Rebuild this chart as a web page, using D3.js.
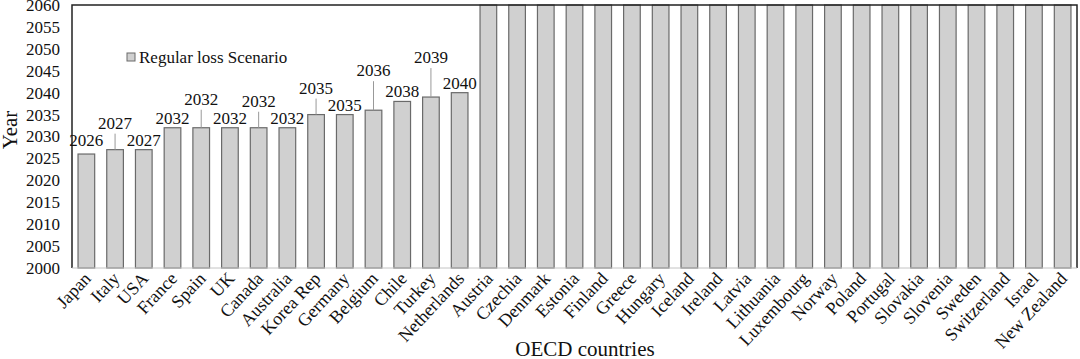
<!DOCTYPE html>
<html>
<head>
<meta charset="utf-8">
<script src="https://cdn.jsdelivr.net/npm/d3@7"></script>
<style>
  body { margin: 0; background: #fff; }
  text { font-family: "Liberation Serif", "Times New Roman", serif; fill: #111; }
</style>
</head>
<body>
<div id="chart"></div>
<script>
// countries and year the scenario is reached (2060 = beyond horizon)
let countries = ["Japan", "Italy", "USA", "France", "Spain", "UK", "Canada", "Australia",
  "Korea Rep", "Germany", "Belgium", "Chile", "Turkey", "Netherlands", "Austria", "Czechia",
  "Denmark", "Estonia", "Finland", "Greece", "Hungary", "Iceland", "Ireland", "Latvia",
  "Lithuania", "Luxembourg", "Norway", "Poland", "Portugal", "Slovakia", "Slovenia", "Sweden",
  "Switzerland", "Israel", "New Zealand"];
let years = [2026, 2027, 2027, 2032, 2032, 2032, 2032, 2032, 2035, 2035, 2036, 2038, 2039, 2040,
  2060, 2060, 2060, 2060, 2060, 2060, 2060, 2060, 2060, 2060, 2060, 2060, 2060, 2060, 2060,
  2060, 2060, 2060, 2060, 2060, 2060];
let yTicks = [2000, 2005, 2010, 2015, 2020, 2025, 2030, 2035, 2040, 2045, 2050, 2055, 2060];
let seriesName = "Regular loss Scenario";

let svgWidth = 1080;
let svgHeight = 359;
let margin = { top: 5, right: 3, bottom: 91, left: 72 };
let width = svgWidth - margin.left - margin.right;
let height = svgHeight - margin.top - margin.bottom;

let svg = d3.select("#chart")
  .append("svg")
  .attr("width", svgWidth)
  .attr("height", svgHeight);

let chartGroup = svg.append("g")
  .attr("transform", `translate(${margin.left}, ${margin.top})`);

let xScale = d3.scaleBand()
  .domain(countries)
  .range([0, width])
  .paddingInner(0.42)
  .paddingOuter(0.21);

let yScale = d3.scaleLinear()
  .domain([2000, 2060])
  .range([height, 0]);

// bars
chartGroup.selectAll("rect.bar")
  .data(countries)
  .enter()
  .append("rect")
  .attr("class", "bar")
  .attr("x", d => xScale(d))
  .attr("width", xScale.bandwidth())
  .attr("y", (d, i) => yScale(years[i]))
  .attr("height", (d, i) => height - yScale(years[i]))
  .attr("fill", "#d0d0d0")
  .attr("stroke", "#6a6a6a")
  .attr("stroke-width", 1.2);

// frame: left, top, right dark; bottom light
chartGroup.append("path")
  .attr("d", `M0,${height} V0 H${width} V${height}`)
  .attr("fill", "none")
  .attr("stroke", "#222")
  .attr("stroke-width", 1.5);
chartGroup.append("line")
  .attr("x1", 0).attr("x2", width)
  .attr("y1", height).attr("y2", height)
  .attr("stroke", "#c4c4c4")
  .attr("stroke-width", 1);

// y axis
let yAxis = d3.axisLeft(yScale).tickValues(yTicks).tickFormat(d3.format("d")).tickSize(0).tickPadding(12);
let yG = chartGroup.append("g").call(yAxis);
yG.select(".domain").remove();
yG.selectAll("text").attr("font-size", "17px").style("font-family", "Liberation Serif");

// x axis
let xAxis = d3.axisBottom(xScale).tickSize(0).tickPadding(0);
let xG = chartGroup.append("g")
  .attr("transform", `translate(0, ${height})`)
  .call(xAxis);
xG.select(".domain").remove();
xG.selectAll("text")
  .attr("font-size", "18px")
  .style("font-family", "Liberation Serif")
  .attr("text-anchor", "end")
  .attr("dy", "0.35em")
  .attr("transform", "translate(1, 7) rotate(-47)");

// value labels, some lifted with a leader line
let lift = { "Japan": 4, "Italy": 17, "Spain": 19, "Canada": 17, "Korea Rep": 17, "Belgium": 30, "Turkey": 30 };
countries.forEach(function(c, i) {
  if (years[i] >= 2060) return;
  let cx = xScale(c) + xScale.bandwidth() / 2;
  let top = yScale(years[i]);
  let up = lift[c] || 0;
  if (up > 5) {
    chartGroup.append("line")
      .attr("x1", cx).attr("x2", cx)
      .attr("y1", top).attr("y2", top - up + 1)
      .attr("stroke", "#999")
      .attr("stroke-width", 1);
  }
  chartGroup.append("text")
    .attr("x", cx)
    .attr("y", top - up - 4)
    .attr("text-anchor", "middle")
    .attr("font-size", "17px")
    .text(years[i]);
});

// legend
let legend = chartGroup.append("g").attr("transform", "translate(55, 48)");
legend.append("rect")
  .attr("width", 8).attr("height", 8)
  .attr("fill", "#d0d0d0")
  .attr("stroke", "#6a6a6a");
legend.append("text")
  .attr("x", 12).attr("y", 4)
  .attr("dy", "0.35em")
  .attr("font-size", "17px")
  .text(seriesName);

// axis titles
svg.append("text")
  .attr("transform", `translate(17, 130) rotate(-90)`)
  .attr("text-anchor", "middle")
  .attr("font-size", "21px")
  .text("Year");

svg.append("text")
  .attr("x", 585)
  .attr("y", 356)
  .attr("text-anchor", "middle")
  .attr("font-size", "21px")
  .text("OECD countries");
</script>
</body>
</html>
